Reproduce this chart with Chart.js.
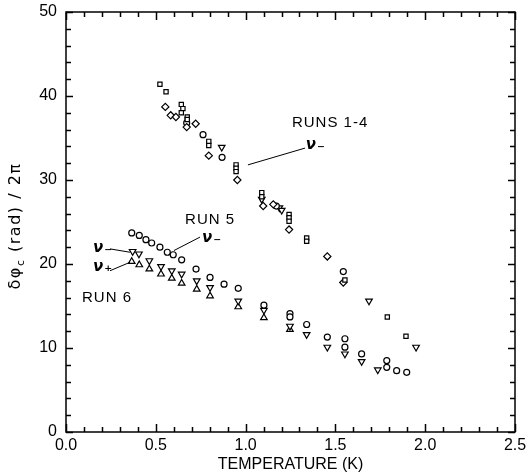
<!DOCTYPE html>
<html>
<head>
<meta charset="utf-8">
<script src="https://cdn.jsdelivr.net/npm/chart.js@4/dist/chart.umd.min.js"></script>
<style>
  html, body { margin: 0; padding: 0; background: #fff; }
  #wrap { width: 532px; height: 474px; }
</style>
</head>
<body>
<div id="wrap"><canvas id="myChart" width="532" height="474"></canvas></div>
<script>
// Runs 1-4, several marker types  [temperature K, delta phi / 2pi]
const runsSquares = [[0.523,41.4],[0.557,40.5],[0.642,39.0],[0.651,38.5],[0.642,38.0],[0.675,37.5],[0.675,37.2],
  [0.795,34.6],[0.795,34.1],[0.947,31.8],[0.947,31.4],[0.947,31.0],[1.090,28.5],[1.090,28.0],
  [1.242,25.9],[1.242,25.5],[1.242,25.1],[1.340,23.1],[1.340,22.7],[1.553,18.1],[1.789,13.7],[1.893,11.4]];
const runsDiamonds = [[0.553,38.7],[0.583,37.7],[0.612,37.5],[0.672,36.3],[0.722,36.7],[0.795,32.9],
  [0.954,30.0],[1.098,26.9],[1.154,27.1],[1.242,24.1],[1.455,20.9],[1.544,17.8]];
const runsCircles = [[0.672,36.8],[0.763,35.4],[0.869,32.7],[1.171,26.9],[1.544,19.1]];
const runsTriDown = [[0.867,33.9],[1.090,27.7],[1.188,26.7],[1.201,26.4],[1.687,15.6],[1.949,10.1]];

// Run 5, nu-minus (circles)
const run5Circles = [[0.366,23.7],[0.408,23.4],[0.445,22.9],[0.477,22.5],[0.523,22.0],[0.564,21.4],[0.597,21.1],
  [0.644,20.5],[0.724,19.4],[0.802,18.4],[0.880,17.6],[0.959,17.1],[1.102,15.1],[1.247,14.1],[1.247,13.7],
  [1.340,12.8],[1.455,11.3],[1.553,11.1],[1.553,10.1],[1.646,9.3],[1.786,8.5],[1.786,7.7],[1.841,7.3],[1.897,7.1]];

// Run 6, nu-minus (down triangles) and nu-plus (up triangles)
const run6Minus = [[0.371,21.5],[0.406,21.2],[0.464,20.4],[0.529,19.7],[0.589,19.2],[0.644,18.8],[0.728,18.0],
  [0.802,17.2],[0.959,15.6],[1.102,14.5],[1.247,12.6],[1.340,11.6],[1.455,10.1],[1.553,9.3],[1.646,8.4],[1.736,7.4]];
const run6Plus = [[0.366,20.3],[0.408,19.9],[0.464,19.4],[0.529,18.8],[0.589,18.3],[0.644,17.7],[0.728,17.0],
  [0.802,16.2],[0.959,14.9],[1.102,13.6],[1.247,12.2]];

const xTicks = [0, 0.5, 1.0, 1.5, 2.0, 2.5];
const yTicks = [0, 10, 20, 30, 40, 50];

// text labels and leader lines, in data units
const labels = [
  { text: "RUNS 1-4", x: 1.258, y: 36.8, font: "15px 'Liberation Sans'" },
  { text: "RUN 5", x: 0.663, y: 25.3, font: "15px 'Liberation Sans'" },
  { text: "RUN 6", x: 0.089, y: 16.0, font: "15px 'Liberation Sans'" },
  { text: "\u03bd\u208b", x: 1.335, y: 34.2, font: "italic bold 15px 'DejaVu Sans'" },
  { text: "\u03bd\u208b", x: 0.757, y: 23.1, font: "italic bold 15px 'DejaVu Sans'" },
  { text: "\u03bd\u208b", x: 0.150, y: 21.9, font: "italic bold 15px 'DejaVu Sans'" },
  { text: "\u03bd\u208a", x: 0.150, y: 19.6, font: "italic bold 15px 'DejaVu Sans'" }
];
const leaders = [
  [[1.013,31.8],[1.331,33.8]],
  [[0.746,23.2],[0.601,21.6]],
  [[0.245,21.8],[0.356,21.4]],
  [[0.245,19.2],[0.356,20.2]]
];

function toXY(arr) { return arr.map(p => ({ x: p[0], y: p[1] })); }

function ds(label, arr, style, rot, r) {
  return {
    label: label,
    data: toXY(arr),
    pointStyle: style,
    rotation: rot || 0,
    pointRadius: r || 3,
    pointBackgroundColor: "#fff",
    pointBorderColor: "#000",
    pointBorderWidth: 1.2,
    showLine: false
  };
}

const frame = {
  id: "frame",
  afterDraw(chart) {
    const ctx = chart.ctx;
    const xs = chart.scales.x, ys = chart.scales.y;
    const a = chart.chartArea;
    ctx.save();
    ctx.strokeStyle = "#000";
    ctx.lineWidth = 1.5;
    ctx.strokeRect(a.left, a.top, a.right - a.left, a.bottom - a.top);
    ctx.beginPath();
    for (let i = 0; i <= 25; i++) {
      const px = Math.round(xs.getPixelForValue(i / 10)) + 0.5;
      const len = i % 5 === 0 ? 8 : 5;
      ctx.moveTo(px, a.bottom); ctx.lineTo(px, a.bottom - len);
      ctx.moveTo(px, a.top); ctx.lineTo(px, a.top + len);
    }
    for (let j = 0; j <= 50; j += 2) {
      const py = Math.round(ys.getPixelForValue(j)) + 0.5;
      const len = j % 10 === 0 ? 7 : 5;
      ctx.moveTo(a.left, py); ctx.lineTo(a.left + len, py);
      ctx.moveTo(a.right, py); ctx.lineTo(a.right - len, py);
    }
    ctx.stroke();

    // leader lines
    ctx.lineWidth = 1;
    ctx.beginPath();
    leaders.forEach(l => {
      ctx.moveTo(xs.getPixelForValue(l[0][0]), ys.getPixelForValue(l[0][1]));
      ctx.lineTo(xs.getPixelForValue(l[1][0]), ys.getPixelForValue(l[1][1]));
    });
    ctx.stroke();

    ctx.fillStyle = "#000";
    ctx.textBaseline = "middle";
    ctx.textAlign = "left";
    labels.forEach(t => {
      ctx.font = t.font;
      ctx.letterSpacing = "1px";
      ctx.fillText(t.text, xs.getPixelForValue(t.x), ys.getPixelForValue(t.y));
    });

    // y title with subscript c
    ctx.translate(16, 226);
    ctx.rotate(-Math.PI / 2);
    ctx.letterSpacing = "1.5px";
    const p1 = "\u03b4\u03c6", p2 = " (rad) / 2\u03c0";
    ctx.font = "16px 'DejaVu Sans'";
    const w1 = ctx.measureText(p1).width;
    ctx.font = "11px 'DejaVu Sans'";
    const wc = ctx.measureText("c").width;
    ctx.font = "16px 'DejaVu Sans'";
    const w2 = ctx.measureText(p2).width;
    let x0 = -(w1 + wc + w2) / 2;
    ctx.fillText(p1, x0, 0);
    ctx.font = "11px 'DejaVu Sans'";
    ctx.fillText("c", x0 + w1, 5);
    ctx.font = "16px 'DejaVu Sans'";
    ctx.fillText(p2, x0 + w1 + wc, 0);
    ctx.restore();
  }
};

const ctx = document.getElementById("myChart").getContext("2d");
const myChart = new Chart(ctx, {
  type: "scatter",
  data: {
    datasets: [
      ds("runs squares", runsSquares, "rect", 0, 3),
      ds("runs diamonds", runsDiamonds, "rectRot", 0, 3.6),
      ds("runs circles", runsCircles, "circle", 0, 3),
      ds("runs down", runsTriDown, "triangle", 180, 3.8),
      ds("run 5", run5Circles, "circle", 0, 3),
      ds("run 6 minus", run6Minus, "triangle", 180, 3.8),
      ds("run 6 plus", run6Plus, "triangle", 0, 3.8)
    ]
  },
  options: {
    responsive: false,
    animation: false,
    layout: { padding: { top: 12, right: 17, left: 0, bottom: 0 } },
    plugins: { legend: { display: false }, tooltip: { enabled: false } },
    scales: {
      x: {
        type: "linear", min: 0, max: 2.5,
        grid: { display: false, drawTicks: false },
        border: { display: false },
        afterBuildTicks: s => { s.ticks = xTicks.map(v => ({ value: v })); },
        afterFit: s => { s.height = 42; s.paddingLeft = 0; s.paddingRight = 0; },
        ticks: {
          padding: 4, color: "#000",
          font: { family: "'Liberation Sans'", size: 16 },
          callback: v => v.toFixed(1)
        },
        title: {
          display: true, text: "TEMPERATURE (K)", color: "#000",
          font: { family: "'Liberation Sans'", size: 16 }, padding: { top: 3, bottom: 0 }
        }
      },
      y: {
        type: "linear", min: 0, max: 50,
        grid: { display: false, drawTicks: false },
        border: { display: false },
        afterBuildTicks: s => { s.ticks = yTicks.map(v => ({ value: v })); },
        afterFit: s => { s.width = 66; s.paddingTop = 0; s.paddingBottom = 0; },
        ticks: {
          padding: 9, color: "#000",
          font: { family: "'Liberation Sans'", size: 16 }
        }
      }
    }
  },
  plugins: [frame]
});
</script>
</body>
</html>
